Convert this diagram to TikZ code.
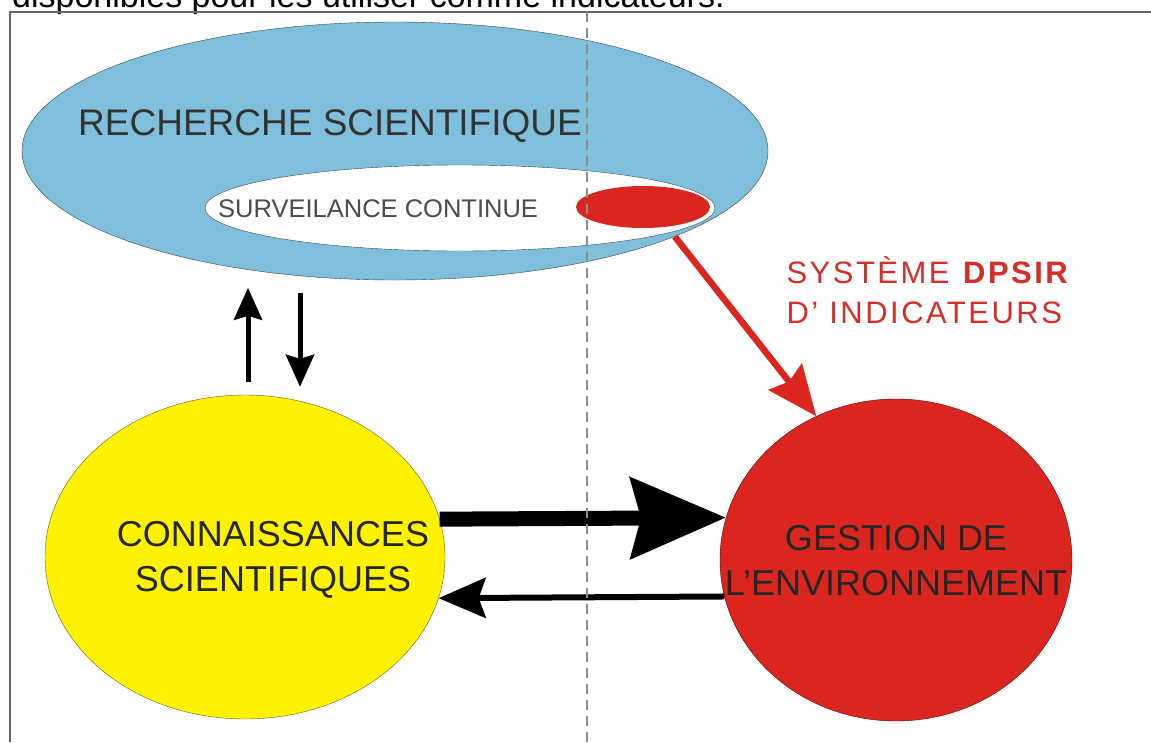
\documentclass[tikz,border=0pt]{standalone}
\usepackage{fontspec}
\setmainfont{Liberation Sans}
\usepackage{tikz}
\usetikzlibrary{arrows.meta,shapes.geometric,calc}
\pgfdeclarelayer{bg}
\pgfsetlayers{bg,main}
\definecolor{rsblue}{RGB}{128,191,220}
\definecolor{rsred}{RGB}{218,38,30}
\definecolor{rsyellow}{RGB}{255,242,0}
\definecolor{rstext}{RGB}{215,45,40}
\definecolor{rsline}{RGB}{55,70,80}
\tikzset{
  blob/.style={ellipse, inner sep=0pt},
  label36/.style={font=\fontsize{36}{45}\selectfont, align=center},
  fatarrow/.style={line width=15pt, -{Stealth[length=95pt,width=80pt,inset=10pt]}},
  thinarrow/.style={line width=6pt, -{Stealth[length=47pt,width=40pt,inset=7pt]}},
  vertarrow/.style={line width=5pt, -{Stealth[length=32pt,width=28pt,inset=4pt]}},
  redarrow/.style={draw=rsred, line width=6.5pt, -{Stealth[length=50pt,width=42pt,inset=6pt]}, rsred}
}

\begin{document}
\begin{tikzpicture}[x=1pt, y=-1pt]
    \useasboundingbox (0,0) rectangle (1151,742);

    \begin{pgfonlayer}{bg}    % frame and the cut caption line
        \begin{scope}
            \clip (0,0) rectangle (1151,742);
            \node [anchor=base west, inner sep=0pt, font=\fontsize{34}{40}\selectfont] (intro) at (12,7) {disponibles pour les utiliser comme indicateurs.};
        \end{scope}
        \draw [draw=black!60, line width=2.2pt] (10,742) -- (10,12) -- (1151,12);
    \end{pgfonlayer}

    % ellipses
    \node [blob, fill=rsblue, draw=rsline, minimum width=746pt, minimum height=258pt] (rech) at (395,151) {};
    \node [blob, fill=white, draw=rsline, minimum width=510pt, minimum height=86pt] (surv) at (460,208) {};
    \node [blob, fill=rsred, minimum width=134pt, minimum height=42pt] (dpsir) at (643,207) {};
    \node [blob, fill=rsyellow, draw=black!70!yellow, minimum width=400pt, minimum height=324pt] (conn) at (245,557) {};
    \node [blob, fill=rsred, draw=black!60!red, minimum width=352pt, minimum height=322pt] (gest) at (896,560) {};

    % texts
    \node [anchor=base west, inner sep=0pt, font=\fontsize{37}{40}\selectfont, text=black!80] (rechlbl) at (78,135) {RECHERCHE SCIENTIFIQUE};
    \node [anchor=base west, inner sep=0pt, font=\fontsize{25.5}{30}\selectfont, text=black!70] (survlbl) at (218,217) {SURVEILANCE CONTINUE};
    \node [label36, text=black!85] (connlbl) at (273,560) {CONNAISSANCES\\SCIENTIFIQUES};
    \node [label36, text=black!85] (gestlbl) at (896,561) {GESTION DE\\L'ENVIRONNEMENT};
    \node [anchor=west, align=left, text=rstext, font=\fontsize{31}{40}\selectfont\addfontfeatures{LetterSpace=8}] (syslbl) at (783,290) {SYSTÈME \textbf{DPSIR}\\D' INDICATEURS};

    % connectors
    \draw [fatarrow] (conn.11) -- (gest.166);
    \draw [thinarrow] (gest.192) -- (conn.-12);
    \draw [vertarrow] ([xshift=3pt,yshift=13pt]conn.north) -- ([xshift=3pt,yshift=107pt]conn.north);
    \draw [vertarrow] ([xshift=55pt,yshift=102pt]conn.north) -- ([xshift=55pt,yshift=8pt]conn.north);
    \draw [redarrow] (rech.-17) -- (gest.119);

    % split line
    \draw [draw=black!45, line width=2pt, dash pattern=on 10pt off 6pt] (587,12) -- (587,742);
\end{tikzpicture}
\end{document}
